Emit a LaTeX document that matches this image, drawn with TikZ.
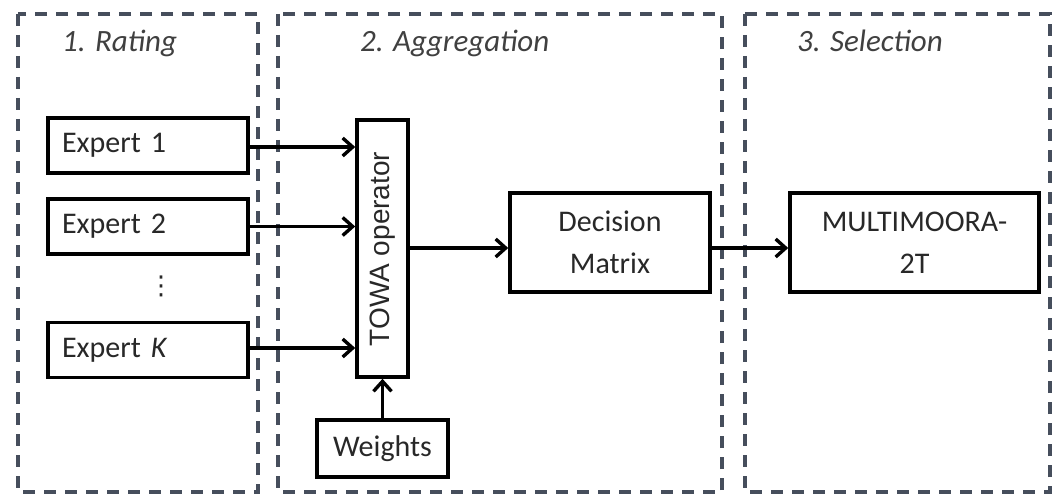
\documentclass[tikz,border=0pt]{standalone}
\usepackage{fontspec}
\setmainfont{Carlito}
\newfontfamily\arialf{Liberation Sans}
\newfontfamily\dejavu{DejaVu Sans}
\usetikzlibrary{arrows.meta}
\definecolor{dashc}{RGB}{70,78,92}
\definecolor{txt}{RGB}{40,40,40}
\begin{document}
\begin{tikzpicture}[x=1pt,y=-1pt,
  phase/.style={draw=dashc,line width=3.4pt,dash pattern=on 12pt off 9pt},
  box/.style={draw=black,line width=3.6pt,inner sep=0pt,text=txt,font=\fontsize{30}{36}\selectfont},
  expertbox/.style={box,minimum height=55pt,text width=172pt,align=left,inner xsep=14pt},
  title/.style={font=\fontsize{31}{36}\selectfont\itshape,anchor=base west,inner sep=0pt,text=black!75},
  arr/.style={line width=3.4pt,-{Straight Barb[length=10pt,width=18pt,line width=3.4pt]}}]
\useasboundingbox (0,0) rectangle (1054,497);
% phases
\draw[phase] (18,14) rectangle (258,492);
\draw[phase] (278,14) rectangle (722,492);
\draw[phase] (745,14) rectangle (1050,492);
\node[title] (t1) at (62,52) {1. Rating};
\node[title] (t2) at (360,52) {2. Aggregation};
\node[title] (t3) at (797,52) {3. Selection};
% experts
\node[expertbox] (e1) at (148,145.5) {Expert 1};
\node[expertbox] (e2) at (148,226.5) {Expert 2};
\node[expertbox] (ek) at (148,350) {Expert \textit{K}};
\node[font=\dejavu\fontsize{26}{30}\selectfont,inner sep=0pt,text=txt] (dots) at (161,286) {⋮};
% TOWA
\node[box,minimum width=51pt,minimum height=257pt] (towa) at (382.5,248.5) {};
\node[rotate=90,font=\arialf\fontsize{28}{32}\selectfont,inner sep=0pt,text=txt] (towat) at (383,249) {TOWA operator};
\node[box,minimum width=131pt,minimum height=57pt] (w) at (382.5,448.5) {Weights};
% decision matrix
\node[box,minimum width=200pt,minimum height=99pt,align=center,font=\fontsize{30}{42}\selectfont] (dm) at (610,242.5) {Decision\\Matrix};
\node[box,minimum width=249pt,minimum height=99pt,align=center,font=\fontsize{30}{42}\selectfont] (mm) at (914.5,242.5) {MULTIMOORA-\\2T};
% arrows
\draw[arr] (e1.east |- 0,147) -- (towa.west |- 0,147);
\draw[arr] (e2.east) -- (towa.west |- e2.east);
\draw[arr] (ek.east |- 0,348) -- (towa.west |- 0,348);
\draw[arr] (w.north) -- (towa.south);
\draw[arr] (towa.east |- 0,248) -- (dm.west |- 0,248);
\draw[arr] (dm.east |- 0,248) -- (mm.west |- 0,248);
\end{tikzpicture}
\end{document}
